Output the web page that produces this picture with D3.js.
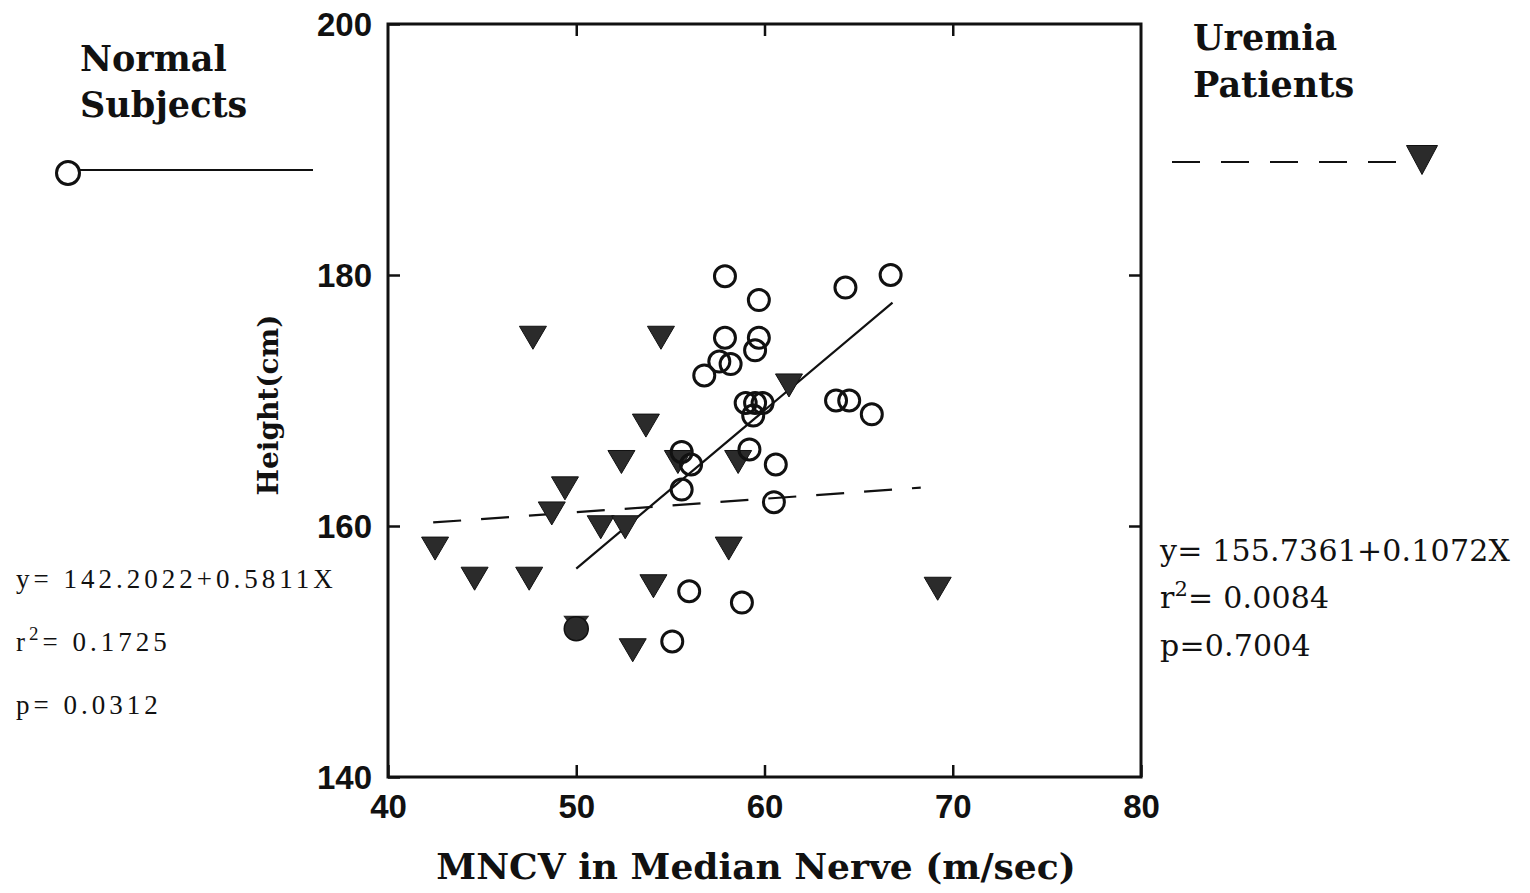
<!DOCTYPE html>
<html>
<head>
<meta charset="utf-8">
<script src="https://cdn.jsdelivr.net/npm/d3@7"></script>
<style>
  html, body { margin: 0; padding: 0; background: #fff; }
  svg { display: block; }
</style>
</head>
<body>
<svg id="chart" width="1530" height="893"></svg>
<script>
// MNCV (m/sec) vs height (cm) for two groups
const normalSubjects = [
  [57.9,179.9],[59.7,178.0],[57.9,175.0],[59.7,175.0],[59.5,174.0],[57.6,173.1],
  [58.2,172.9],[56.8,172.0],[59.0,169.8],[59.5,169.8],[59.9,169.8],[59.4,168.8],
  [55.6,165.9],[56.1,164.9],[59.2,166.1],[60.6,164.9],[55.6,162.9],[60.5,161.9],
  [64.3,179.0],[66.7,180.0],[63.8,170.0],[64.5,170.0],[65.7,168.9],[56.0,154.8],
  [58.8,153.9],[55.1,150.8]
];
const uremiaPatients = [
  [42.5,158.2],[44.6,155.8],[47.5,155.8],[47.7,175.0],[48.7,161.0],[49.4,163.0],
  [51.3,159.9],[52.6,159.9],[52.4,165.1],[53.7,168.0],[54.5,175.0],[54.1,155.2],
  [53.0,150.1],[55.4,165.1],[58.1,158.2],[58.6,165.1],[61.3,171.2],[69.2,155.0]
];
// one subject from each group at the same spot
const sharedPoints = [[50.0,151.9]];

// fitted lines (end points)
const normalFit = [[50.0,156.6],[66.8,177.8]];
const uremiaFitX = [42.4, 68.3];
const uremiaIntercept = 155.7361;
const uremiaSlope = 0.1072;

const xTicks = [40, 50, 60, 70, 80];
const yTicks = [140, 160, 180, 200];

const leftStats = ["y= 142.2022+0.5811X", "r|2|= 0.1725", "p= 0.0312"];
const rightStats = ["y= 155.7361+0.1072X", "r|2|= 0.0084", "p=0.7004"];

const svg = d3.select("#chart");
const plot = { left: 388, right: 1141, top: 24, bottom: 777 };

const x = d3.scaleLinear().domain([40, 80]).range([plot.left, plot.right]);
const y = d3.scaleLinear().domain([140, 200]).range([plot.bottom, plot.top]);

const ink = "#111";
const triFill = "#2b2b2b";

// frame
svg.append("rect")
  .attr("x", plot.left).attr("y", plot.top)
  .attr("width", plot.right - plot.left).attr("height", plot.bottom - plot.top)
  .attr("fill", "none").attr("stroke", ink).attr("stroke-width", 3);

// axes with inward ticks
const tickLen = 12;
const xAxisB = d3.axisBottom(x).tickValues(xTicks).tickSize(-tickLen).tickPadding(18).tickFormat(d3.format("d"));
const xAxisT = d3.axisTop(x).tickValues(xTicks.slice(1, -1)).tickSize(-tickLen).tickFormat("");
const yAxisL = d3.axisLeft(y).tickValues(yTicks).tickSize(-tickLen).tickPadding(16).tickFormat(d3.format("d"));
const yAxisR = d3.axisRight(y).tickValues(yTicks.slice(1, -1)).tickSize(-tickLen).tickFormat("");

function styleAxis(g) {
  g.select(".domain").remove();
  g.selectAll(".tick line").attr("stroke", ink).attr("stroke-width", 2.5);
  g.selectAll(".tick text")
    .attr("fill", ink)
    .style("font-family", "'Liberation Sans', Arial, sans-serif")
    .style("font-weight", "bold")
    .style("font-size", "33px");
}

svg.append("g").attr("transform", `translate(0,${plot.bottom})`).call(xAxisB).call(styleAxis);
svg.append("g").attr("transform", `translate(0,${plot.top})`).call(xAxisT).call(styleAxis);
svg.append("g").attr("transform", `translate(${plot.left},0)`).call(yAxisL).call(styleAxis)
  .selectAll(".tick text").attr("dy", "0.36em");
svg.append("g").attr("transform", `translate(${plot.right},0)`).call(yAxisR).call(styleAxis);

// axis titles
const slab = "'DejaVu Serif', serif";
svg.append("text")
  .attr("x", 756).attr("y", 879)
  .attr("text-anchor", "middle")
  .style("font-family", slab).style("font-weight", "bold").style("font-size", "36px")
  .attr("fill", ink)
  .text("MNCV in Median Nerve (m/sec)");

svg.append("text")
  .attr("transform", "translate(278,405) rotate(-90)")
  .attr("text-anchor", "middle")
  .style("font-family", slab).style("font-weight", "bold").style("font-size", "28px")
  .attr("fill", ink)
  .text("Height(cm)");

// fitted lines
const line = d3.line().x(d => x(d[0])).y(d => y(d[1]));
svg.append("path")
  .datum(normalFit)
  .attr("d", line)
  .attr("fill", "none").attr("stroke", ink).attr("stroke-width", 2.2);

const uremiaFit = uremiaFitX.map(v => [v, uremiaIntercept + uremiaSlope * v]);
svg.append("path")
  .datum(uremiaFit)
  .attr("d", line)
  .attr("fill", "none").attr("stroke", ink).attr("stroke-width", 2.2)
  .attr("stroke-dasharray", "28,20");

// markers
const triangle = (w, h) => `M${-w/2},${-h/2}L${w/2},${-h/2}L0,${h/2}Z`;

svg.append("g").selectAll("path")
  .data(uremiaPatients)
  .join("path")
  .attr("transform", d => `translate(${x(d[0])},${y(d[1])})`)
  .attr("d", triangle(27, 23))
  .attr("fill", triFill).attr("stroke", ink).attr("stroke-width", 1);

svg.append("g").selectAll("circle")
  .data(normalSubjects)
  .join("circle")
  .attr("cx", d => x(d[0])).attr("cy", d => y(d[1]))
  .attr("r", 10.5)
  .attr("fill", "none").attr("stroke", ink).attr("stroke-width", 3);

const shared = svg.append("g").selectAll("g")
  .data(sharedPoints)
  .join("g")
  .attr("transform", d => `translate(${x(d[0])},${y(d[1])})`);
shared.append("path").attr("d", triangle(26, 18)).attr("transform", "translate(0,-3)").attr("fill", triFill);
shared.append("circle").attr("r", 12).attr("cy", 1).attr("fill", triFill).attr("stroke", ink).attr("stroke-width", 1.5);

// legends
function legendTitle(xp, lines, baselines) {
  lines.forEach((t, i) => {
    svg.append("text")
      .attr("x", xp).attr("y", baselines[i])
      .style("font-family", slab).style("font-weight", "bold").style("font-size", "35px")
      .attr("fill", ink)
      .text(t);
  });
}
legendTitle(80, ["Normal", "Subjects"], [71, 117]);
legendTitle(1193, ["Uremia", "Patients"], [50, 97]);

svg.append("line")
  .attr("x1", 80).attr("x2", 313).attr("y1", 170).attr("y2", 170)
  .attr("stroke", ink).attr("stroke-width", 2);
svg.append("circle")
  .attr("cx", 68).attr("cy", 173).attr("r", 11.5)
  .attr("fill", "#fff").attr("stroke", ink).attr("stroke-width", 3);

svg.append("line")
  .attr("x1", 1172).attr("x2", 1400).attr("y1", 162).attr("y2", 162)
  .attr("stroke", ink).attr("stroke-width", 2.2)
  .attr("stroke-dasharray", "28,21");
svg.append("path")
  .attr("transform", "translate(1422,160)")
  .attr("d", triangle(31, 29))
  .attr("fill", triFill).attr("stroke", ink).attr("stroke-width", 1);

// regression statistics
function statBlock(lines, xp, baselines, family, size, spacing) {
  lines.forEach((t, i) => {
    const parts = t.split("|");
    const txt = svg.append("text")
      .attr("x", xp).attr("y", baselines[i])
      .style("font-family", family).style("font-size", size + "px")
      .style("letter-spacing", spacing + "px")
      .attr("fill", ink);
    if (parts.length === 1) {
      txt.text(t);
    } else {
      txt.append("tspan").text(parts[0]);
      txt.append("tspan").attr("dy", -size * 0.4).style("font-size", (size * 0.7) + "px").text(parts[1]);
      txt.append("tspan").attr("dy", size * 0.4).text(parts[2]);
    }
  });
}
statBlock(leftStats, 16, [588, 651, 714], "'Liberation Serif', 'Times New Roman', serif", 27, 4.0);
statBlock(rightStats, 1160, [561, 608, 656], "'DejaVu Serif', serif", 30, 0.2);
</script>
</body>
</html>
